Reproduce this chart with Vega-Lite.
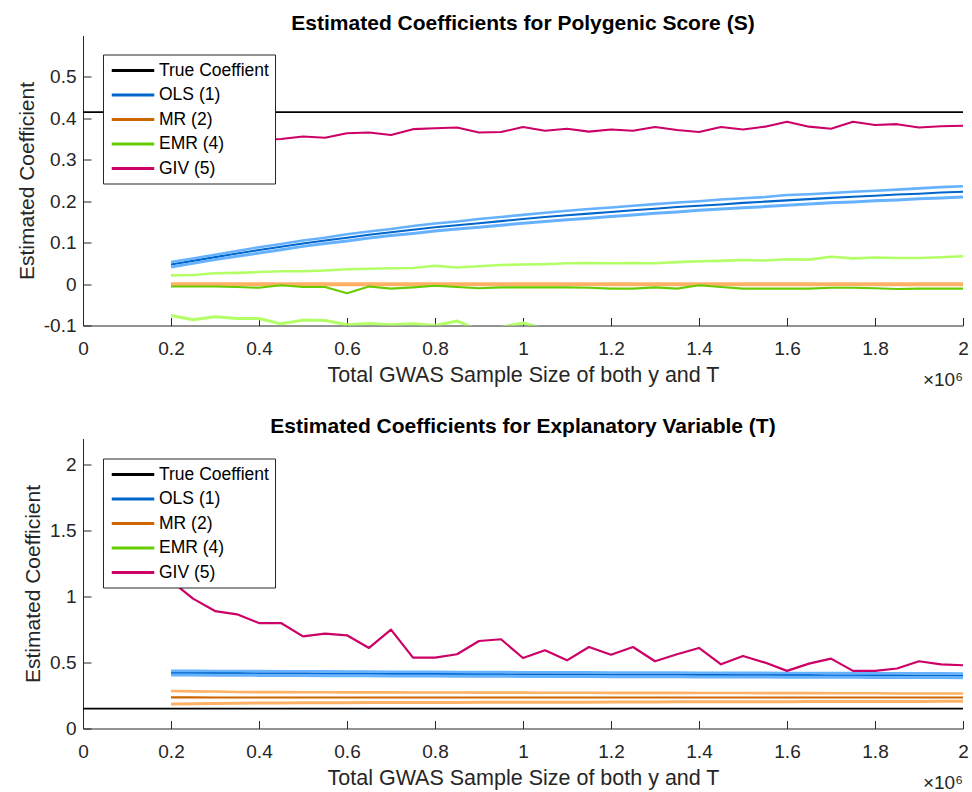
{
  "$schema": "https://vega.github.io/schema/vega-lite/v6.json",
  "autosize": {"type": "pad"},
  "padding": {"left": 16, "top": 12.5, "right": 0, "bottom": 0},
  "background": "white",
  "bounds": "flush",
  "spacing": 113,
  "config": {
    "font": "Liberation Sans",
    "view": {"stroke": null},
    "axis": {
      "domainColor": "#262626", "tickColor": "#262626", "labelColor": "#262626", "titleColor": "#262626",
      "labelFont": "Liberation Sans", "titleFont": "Liberation Sans", "labelFontSize": 19, "titleFontSize": 21,
      "titleFontWeight": "normal", "grid": false, "tickSize": -8, "labelPadding": 15, "domainWidth": 1, "tickWidth": 1,
      "labelFlush": false, "labelOverlap": false, "zindex": 1
    },
    "axisX": {"labelPadding": 22, "titleFontSize": 21.5},
    "title": {"font": "Liberation Sans", "fontSize": 21, "fontWeight": "bold", "color": "#000000", "anchor": "middle", "frame": "group", "offset": 2},
    "legend": {
      "strokeColor": "#262626", "fillColor": "white", "padding": 6, "symbolSize": 289, "symbolStrokeWidth": 3,
      "labelFont": "Liberation Sans", "labelFontSize": 17.5, "labelColor": "#000000", "rowPadding": 5.5,
      "labelOffset": 16, "symbolOffset": 14, "labelLimit": 300
    }
  },
  "datasets": {
    "S": [
      {"method":"True","stat":"true","n":0,"coef":0.415},{"method":"True","stat":"true","n":2,"coef":0.415},
      {"method":"OLS","stat":"est","n":0.2,"coef":0.047},{"method":"OLS","stat":"est","n":0.25,"coef":0.056},{"method":"OLS","stat":"est","n":0.3,"coef":0.065},{"method":"OLS","stat":"est","n":0.35,"coef":0.074},{"method":"OLS","stat":"est","n":0.4,"coef":0.082},{"method":"OLS","stat":"est","n":0.45,"coef":0.090},{"method":"OLS","stat":"est","n":0.5,"coef":0.098},{"method":"OLS","stat":"est","n":0.55,"coef":0.105},{"method":"OLS","stat":"est","n":0.6,"coef":0.112},{"method":"OLS","stat":"est","n":0.65,"coef":0.119},{"method":"OLS","stat":"est","n":0.7,"coef":0.125},{"method":"OLS","stat":"est","n":0.75,"coef":0.131},{"method":"OLS","stat":"est","n":0.8,"coef":0.137},{"method":"OLS","stat":"est","n":0.85,"coef":0.142},{"method":"OLS","stat":"est","n":0.9,"coef":0.147},{"method":"OLS","stat":"est","n":0.95,"coef":0.152},{"method":"OLS","stat":"est","n":1,"coef":0.157},{"method":"OLS","stat":"est","n":1.05,"coef":0.162},{"method":"OLS","stat":"est","n":1.1,"coef":0.166},{"method":"OLS","stat":"est","n":1.15,"coef":0.170},{"method":"OLS","stat":"est","n":1.2,"coef":0.174},{"method":"OLS","stat":"est","n":1.25,"coef":0.178},{"method":"OLS","stat":"est","n":1.3,"coef":0.182},{"method":"OLS","stat":"est","n":1.35,"coef":0.186},{"method":"OLS","stat":"est","n":1.4,"coef":0.189},{"method":"OLS","stat":"est","n":1.45,"coef":0.192},{"method":"OLS","stat":"est","n":1.5,"coef":0.196},{"method":"OLS","stat":"est","n":1.55,"coef":0.199},{"method":"OLS","stat":"est","n":1.6,"coef":0.202},{"method":"OLS","stat":"est","n":1.65,"coef":0.205},{"method":"OLS","stat":"est","n":1.7,"coef":0.208},{"method":"OLS","stat":"est","n":1.75,"coef":0.211},{"method":"OLS","stat":"est","n":1.8,"coef":0.213},{"method":"OLS","stat":"est","n":1.85,"coef":0.216},{"method":"OLS","stat":"est","n":1.9,"coef":0.218},{"method":"OLS","stat":"est","n":1.95,"coef":0.221},{"method":"OLS","stat":"est","n":2,"coef":0.223},
      {"method":"OLS","stat":"hi","n":0.2,"coef":0.053},{"method":"OLS","stat":"hi","n":0.25,"coef":0.062},{"method":"OLS","stat":"hi","n":0.3,"coef":0.071},{"method":"OLS","stat":"hi","n":0.35,"coef":0.080},{"method":"OLS","stat":"hi","n":0.4,"coef":0.089},{"method":"OLS","stat":"hi","n":0.45,"coef":0.097},{"method":"OLS","stat":"hi","n":0.5,"coef":0.105},{"method":"OLS","stat":"hi","n":0.55,"coef":0.112},{"method":"OLS","stat":"hi","n":0.6,"coef":0.120},{"method":"OLS","stat":"hi","n":0.65,"coef":0.127},{"method":"OLS","stat":"hi","n":0.7,"coef":0.133},{"method":"OLS","stat":"hi","n":0.75,"coef":0.140},{"method":"OLS","stat":"hi","n":0.8,"coef":0.146},{"method":"OLS","stat":"hi","n":0.85,"coef":0.151},{"method":"OLS","stat":"hi","n":0.9,"coef":0.157},{"method":"OLS","stat":"hi","n":0.95,"coef":0.162},{"method":"OLS","stat":"hi","n":1,"coef":0.167},{"method":"OLS","stat":"hi","n":1.05,"coef":0.172},{"method":"OLS","stat":"hi","n":1.1,"coef":0.177},{"method":"OLS","stat":"hi","n":1.15,"coef":0.181},{"method":"OLS","stat":"hi","n":1.2,"coef":0.185},{"method":"OLS","stat":"hi","n":1.25,"coef":0.189},{"method":"OLS","stat":"hi","n":1.3,"coef":0.193},{"method":"OLS","stat":"hi","n":1.35,"coef":0.197},{"method":"OLS","stat":"hi","n":1.4,"coef":0.200},{"method":"OLS","stat":"hi","n":1.45,"coef":0.204},{"method":"OLS","stat":"hi","n":1.5,"coef":0.207},{"method":"OLS","stat":"hi","n":1.55,"coef":0.210},{"method":"OLS","stat":"hi","n":1.6,"coef":0.215},{"method":"OLS","stat":"hi","n":1.65,"coef":0.217},{"method":"OLS","stat":"hi","n":1.7,"coef":0.220},{"method":"OLS","stat":"hi","n":1.75,"coef":0.223},{"method":"OLS","stat":"hi","n":1.8,"coef":0.225},{"method":"OLS","stat":"hi","n":1.85,"coef":0.228},{"method":"OLS","stat":"hi","n":1.9,"coef":0.231},{"method":"OLS","stat":"hi","n":1.95,"coef":0.234},{"method":"OLS","stat":"hi","n":2,"coef":0.236},
      {"method":"OLS","stat":"lo","n":0.2,"coef":0.041},{"method":"OLS","stat":"lo","n":0.25,"coef":0.050},{"method":"OLS","stat":"lo","n":0.3,"coef":0.059},{"method":"OLS","stat":"lo","n":0.35,"coef":0.067},{"method":"OLS","stat":"lo","n":0.4,"coef":0.075},{"method":"OLS","stat":"lo","n":0.45,"coef":0.083},{"method":"OLS","stat":"lo","n":0.5,"coef":0.091},{"method":"OLS","stat":"lo","n":0.55,"coef":0.098},{"method":"OLS","stat":"lo","n":0.6,"coef":0.104},{"method":"OLS","stat":"lo","n":0.65,"coef":0.111},{"method":"OLS","stat":"lo","n":0.7,"coef":0.117},{"method":"OLS","stat":"lo","n":0.75,"coef":0.122},{"method":"OLS","stat":"lo","n":0.8,"coef":0.128},{"method":"OLS","stat":"lo","n":0.85,"coef":0.133},{"method":"OLS","stat":"lo","n":0.9,"coef":0.137},{"method":"OLS","stat":"lo","n":0.95,"coef":0.142},{"method":"OLS","stat":"lo","n":1,"coef":0.147},{"method":"OLS","stat":"lo","n":1.05,"coef":0.151},{"method":"OLS","stat":"lo","n":1.1,"coef":0.155},{"method":"OLS","stat":"lo","n":1.15,"coef":0.159},{"method":"OLS","stat":"lo","n":1.2,"coef":0.163},{"method":"OLS","stat":"lo","n":1.25,"coef":0.167},{"method":"OLS","stat":"lo","n":1.3,"coef":0.171},{"method":"OLS","stat":"lo","n":1.35,"coef":0.174},{"method":"OLS","stat":"lo","n":1.4,"coef":0.178},{"method":"OLS","stat":"lo","n":1.45,"coef":0.181},{"method":"OLS","stat":"lo","n":1.5,"coef":0.184},{"method":"OLS","stat":"lo","n":1.55,"coef":0.187},{"method":"OLS","stat":"lo","n":1.6,"coef":0.190},{"method":"OLS","stat":"lo","n":1.65,"coef":0.193},{"method":"OLS","stat":"lo","n":1.7,"coef":0.196},{"method":"OLS","stat":"lo","n":1.75,"coef":0.198},{"method":"OLS","stat":"lo","n":1.8,"coef":0.201},{"method":"OLS","stat":"lo","n":1.85,"coef":0.203},{"method":"OLS","stat":"lo","n":1.9,"coef":0.206},{"method":"OLS","stat":"lo","n":1.95,"coef":0.208},{"method":"OLS","stat":"lo","n":2,"coef":0.210},
      {"method":"MR","stat":"est","n":0.2,"coef":0},{"method":"MR","stat":"est","n":0.25,"coef":0},{"method":"MR","stat":"est","n":0.3,"coef":0},{"method":"MR","stat":"est","n":0.35,"coef":0},{"method":"MR","stat":"est","n":0.4,"coef":0},{"method":"MR","stat":"est","n":0.45,"coef":0},{"method":"MR","stat":"est","n":0.5,"coef":0},{"method":"MR","stat":"est","n":0.55,"coef":0},{"method":"MR","stat":"est","n":0.6,"coef":0},{"method":"MR","stat":"est","n":0.65,"coef":0},{"method":"MR","stat":"est","n":0.7,"coef":0},{"method":"MR","stat":"est","n":0.75,"coef":0},{"method":"MR","stat":"est","n":0.8,"coef":0},{"method":"MR","stat":"est","n":0.85,"coef":0},{"method":"MR","stat":"est","n":0.9,"coef":0},{"method":"MR","stat":"est","n":0.95,"coef":0},{"method":"MR","stat":"est","n":1,"coef":0},{"method":"MR","stat":"est","n":1.05,"coef":0},{"method":"MR","stat":"est","n":1.1,"coef":0},{"method":"MR","stat":"est","n":1.15,"coef":0},{"method":"MR","stat":"est","n":1.2,"coef":0},{"method":"MR","stat":"est","n":1.25,"coef":0},{"method":"MR","stat":"est","n":1.3,"coef":0},{"method":"MR","stat":"est","n":1.35,"coef":0},{"method":"MR","stat":"est","n":1.4,"coef":0},{"method":"MR","stat":"est","n":1.45,"coef":0},{"method":"MR","stat":"est","n":1.5,"coef":0},{"method":"MR","stat":"est","n":1.55,"coef":0},{"method":"MR","stat":"est","n":1.6,"coef":0},{"method":"MR","stat":"est","n":1.65,"coef":0},{"method":"MR","stat":"est","n":1.7,"coef":0},{"method":"MR","stat":"est","n":1.75,"coef":0},{"method":"MR","stat":"est","n":1.8,"coef":0},{"method":"MR","stat":"est","n":1.85,"coef":0},{"method":"MR","stat":"est","n":1.9,"coef":0},{"method":"MR","stat":"est","n":1.95,"coef":0},{"method":"MR","stat":"est","n":2,"coef":0},
      {"method":"MR","stat":"hi","n":0.2,"coef":0.0015},{"method":"MR","stat":"hi","n":0.25,"coef":0.0015},{"method":"MR","stat":"hi","n":0.3,"coef":0.0015},{"method":"MR","stat":"hi","n":0.35,"coef":0.0015},{"method":"MR","stat":"hi","n":0.4,"coef":0.0015},{"method":"MR","stat":"hi","n":0.45,"coef":0.0015},{"method":"MR","stat":"hi","n":0.5,"coef":0.0015},{"method":"MR","stat":"hi","n":0.55,"coef":0.0015},{"method":"MR","stat":"hi","n":0.6,"coef":0.0015},{"method":"MR","stat":"hi","n":0.65,"coef":0.0015},{"method":"MR","stat":"hi","n":0.7,"coef":0.0015},{"method":"MR","stat":"hi","n":0.75,"coef":0.0015},{"method":"MR","stat":"hi","n":0.8,"coef":0.0015},{"method":"MR","stat":"hi","n":0.85,"coef":0.0015},{"method":"MR","stat":"hi","n":0.9,"coef":0.0015},{"method":"MR","stat":"hi","n":0.95,"coef":0.0015},{"method":"MR","stat":"hi","n":1,"coef":0.0015},{"method":"MR","stat":"hi","n":1.05,"coef":0.0015},{"method":"MR","stat":"hi","n":1.1,"coef":0.0015},{"method":"MR","stat":"hi","n":1.15,"coef":0.0015},{"method":"MR","stat":"hi","n":1.2,"coef":0.0015},{"method":"MR","stat":"hi","n":1.25,"coef":0.0015},{"method":"MR","stat":"hi","n":1.3,"coef":0.0015},{"method":"MR","stat":"hi","n":1.35,"coef":0.0015},{"method":"MR","stat":"hi","n":1.4,"coef":0.0015},{"method":"MR","stat":"hi","n":1.45,"coef":0.0015},{"method":"MR","stat":"hi","n":1.5,"coef":0.0015},{"method":"MR","stat":"hi","n":1.55,"coef":0.0015},{"method":"MR","stat":"hi","n":1.6,"coef":0.0015},{"method":"MR","stat":"hi","n":1.65,"coef":0.0015},{"method":"MR","stat":"hi","n":1.7,"coef":0.0015},{"method":"MR","stat":"hi","n":1.75,"coef":0.0015},{"method":"MR","stat":"hi","n":1.8,"coef":0.0015},{"method":"MR","stat":"hi","n":1.85,"coef":0.0015},{"method":"MR","stat":"hi","n":1.9,"coef":0.0015},{"method":"MR","stat":"hi","n":1.95,"coef":0.0015},{"method":"MR","stat":"hi","n":2,"coef":0.0015},
      {"method":"MR","stat":"lo","n":0.2,"coef":-0.0015},{"method":"MR","stat":"lo","n":0.25,"coef":-0.0015},{"method":"MR","stat":"lo","n":0.3,"coef":-0.0015},{"method":"MR","stat":"lo","n":0.35,"coef":-0.0015},{"method":"MR","stat":"lo","n":0.4,"coef":-0.0015},{"method":"MR","stat":"lo","n":0.45,"coef":-0.0015},{"method":"MR","stat":"lo","n":0.5,"coef":-0.0015},{"method":"MR","stat":"lo","n":0.55,"coef":-0.0015},{"method":"MR","stat":"lo","n":0.6,"coef":-0.0015},{"method":"MR","stat":"lo","n":0.65,"coef":-0.0015},{"method":"MR","stat":"lo","n":0.7,"coef":-0.0015},{"method":"MR","stat":"lo","n":0.75,"coef":-0.0015},{"method":"MR","stat":"lo","n":0.8,"coef":-0.0015},{"method":"MR","stat":"lo","n":0.85,"coef":-0.0015},{"method":"MR","stat":"lo","n":0.9,"coef":-0.0015},{"method":"MR","stat":"lo","n":0.95,"coef":-0.0015},{"method":"MR","stat":"lo","n":1,"coef":-0.0015},{"method":"MR","stat":"lo","n":1.05,"coef":-0.0015},{"method":"MR","stat":"lo","n":1.1,"coef":-0.0015},{"method":"MR","stat":"lo","n":1.15,"coef":-0.0015},{"method":"MR","stat":"lo","n":1.2,"coef":-0.0015},{"method":"MR","stat":"lo","n":1.25,"coef":-0.0015},{"method":"MR","stat":"lo","n":1.3,"coef":-0.0015},{"method":"MR","stat":"lo","n":1.35,"coef":-0.0015},{"method":"MR","stat":"lo","n":1.4,"coef":-0.0015},{"method":"MR","stat":"lo","n":1.45,"coef":-0.0015},{"method":"MR","stat":"lo","n":1.5,"coef":-0.0015},{"method":"MR","stat":"lo","n":1.55,"coef":-0.0015},{"method":"MR","stat":"lo","n":1.6,"coef":-0.0015},{"method":"MR","stat":"lo","n":1.65,"coef":-0.0015},{"method":"MR","stat":"lo","n":1.7,"coef":-0.0015},{"method":"MR","stat":"lo","n":1.75,"coef":-0.0015},{"method":"MR","stat":"lo","n":1.8,"coef":-0.0015},{"method":"MR","stat":"lo","n":1.85,"coef":-0.0015},{"method":"MR","stat":"lo","n":1.9,"coef":-0.0015},{"method":"MR","stat":"lo","n":1.95,"coef":-0.0015},{"method":"MR","stat":"lo","n":2,"coef":-0.0015},
      {"method":"EMR","stat":"est","n":0.2,"coef":-0.006},{"method":"EMR","stat":"est","n":0.25,"coef":-0.006},{"method":"EMR","stat":"est","n":0.3,"coef":-0.006},{"method":"EMR","stat":"est","n":0.35,"coef":-0.007},{"method":"EMR","stat":"est","n":0.4,"coef":-0.009},{"method":"EMR","stat":"est","n":0.45,"coef":-0.003},{"method":"EMR","stat":"est","n":0.5,"coef":-0.007},{"method":"EMR","stat":"est","n":0.55,"coef":-0.007},{"method":"EMR","stat":"est","n":0.6,"coef":-0.022},{"method":"EMR","stat":"est","n":0.65,"coef":-0.006},{"method":"EMR","stat":"est","n":0.7,"coef":-0.011},{"method":"EMR","stat":"est","n":0.75,"coef":-0.008},{"method":"EMR","stat":"est","n":0.8,"coef":-0.004},{"method":"EMR","stat":"est","n":0.85,"coef":-0.007},{"method":"EMR","stat":"est","n":0.9,"coef":-0.010},{"method":"EMR","stat":"est","n":0.95,"coef":-0.008},{"method":"EMR","stat":"est","n":1,"coef":-0.008},{"method":"EMR","stat":"est","n":1.05,"coef":-0.008},{"method":"EMR","stat":"est","n":1.1,"coef":-0.008},{"method":"EMR","stat":"est","n":1.15,"coef":-0.009},{"method":"EMR","stat":"est","n":1.2,"coef":-0.011},{"method":"EMR","stat":"est","n":1.25,"coef":-0.011},{"method":"EMR","stat":"est","n":1.3,"coef":-0.008},{"method":"EMR","stat":"est","n":1.35,"coef":-0.011},{"method":"EMR","stat":"est","n":1.4,"coef":-0.003},{"method":"EMR","stat":"est","n":1.45,"coef":-0.007},{"method":"EMR","stat":"est","n":1.5,"coef":-0.011},{"method":"EMR","stat":"est","n":1.55,"coef":-0.011},{"method":"EMR","stat":"est","n":1.6,"coef":-0.011},{"method":"EMR","stat":"est","n":1.65,"coef":-0.011},{"method":"EMR","stat":"est","n":1.7,"coef":-0.009},{"method":"EMR","stat":"est","n":1.75,"coef":-0.009},{"method":"EMR","stat":"est","n":1.8,"coef":-0.010},{"method":"EMR","stat":"est","n":1.85,"coef":-0.012},{"method":"EMR","stat":"est","n":1.9,"coef":-0.011},{"method":"EMR","stat":"est","n":1.95,"coef":-0.011},{"method":"EMR","stat":"est","n":2,"coef":-0.011},
      {"method":"EMR","stat":"hi","n":0.2,"coef":0.021},{"method":"EMR","stat":"hi","n":0.25,"coef":0.022},{"method":"EMR","stat":"hi","n":0.3,"coef":0.026},{"method":"EMR","stat":"hi","n":0.35,"coef":0.027},{"method":"EMR","stat":"hi","n":0.4,"coef":0.029},{"method":"EMR","stat":"hi","n":0.45,"coef":0.031},{"method":"EMR","stat":"hi","n":0.5,"coef":0.031},{"method":"EMR","stat":"hi","n":0.55,"coef":0.033},{"method":"EMR","stat":"hi","n":0.6,"coef":0.036},{"method":"EMR","stat":"hi","n":0.65,"coef":0.037},{"method":"EMR","stat":"hi","n":0.7,"coef":0.038},{"method":"EMR","stat":"hi","n":0.75,"coef":0.039},{"method":"EMR","stat":"hi","n":0.8,"coef":0.044},{"method":"EMR","stat":"hi","n":0.85,"coef":0.040},{"method":"EMR","stat":"hi","n":0.9,"coef":0.043},{"method":"EMR","stat":"hi","n":0.95,"coef":0.046},{"method":"EMR","stat":"hi","n":1,"coef":0.047},{"method":"EMR","stat":"hi","n":1.05,"coef":0.048},{"method":"EMR","stat":"hi","n":1.1,"coef":0.050},{"method":"EMR","stat":"hi","n":1.15,"coef":0.051},{"method":"EMR","stat":"hi","n":1.2,"coef":0.050},{"method":"EMR","stat":"hi","n":1.25,"coef":0.051},{"method":"EMR","stat":"hi","n":1.3,"coef":0.050},{"method":"EMR","stat":"hi","n":1.35,"coef":0.053},{"method":"EMR","stat":"hi","n":1.4,"coef":0.055},{"method":"EMR","stat":"hi","n":1.45,"coef":0.056},{"method":"EMR","stat":"hi","n":1.5,"coef":0.058},{"method":"EMR","stat":"hi","n":1.55,"coef":0.057},{"method":"EMR","stat":"hi","n":1.6,"coef":0.060},{"method":"EMR","stat":"hi","n":1.65,"coef":0.059},{"method":"EMR","stat":"hi","n":1.7,"coef":0.066},{"method":"EMR","stat":"hi","n":1.75,"coef":0.062},{"method":"EMR","stat":"hi","n":1.8,"coef":0.064},{"method":"EMR","stat":"hi","n":1.85,"coef":0.063},{"method":"EMR","stat":"hi","n":1.9,"coef":0.063},{"method":"EMR","stat":"hi","n":1.95,"coef":0.065},{"method":"EMR","stat":"hi","n":2,"coef":0.067},
      {"method":"EMR","stat":"lo","n":0.2,"coef":-0.076},{"method":"EMR","stat":"lo","n":0.25,"coef":-0.086},{"method":"EMR","stat":"lo","n":0.3,"coef":-0.079},{"method":"EMR","stat":"lo","n":0.35,"coef":-0.083},{"method":"EMR","stat":"lo","n":0.4,"coef":-0.083},{"method":"EMR","stat":"lo","n":0.45,"coef":-0.096},{"method":"EMR","stat":"lo","n":0.5,"coef":-0.087},{"method":"EMR","stat":"lo","n":0.55,"coef":-0.088},{"method":"EMR","stat":"lo","n":0.6,"coef":-0.098},{"method":"EMR","stat":"lo","n":0.65,"coef":-0.095},{"method":"EMR","stat":"lo","n":0.7,"coef":-0.098},{"method":"EMR","stat":"lo","n":0.75,"coef":-0.096},{"method":"EMR","stat":"lo","n":0.8,"coef":-0.100},{"method":"EMR","stat":"lo","n":0.85,"coef":-0.089},{"method":"EMR","stat":"lo","n":0.9,"coef":-0.112},{"method":"EMR","stat":"lo","n":0.95,"coef":-0.104},{"method":"EMR","stat":"lo","n":1,"coef":-0.094},{"method":"EMR","stat":"lo","n":1.05,"coef":-0.108},{"method":"EMR","stat":"lo","n":1.1,"coef":-0.112},{"method":"EMR","stat":"lo","n":1.15,"coef":-0.115},{"method":"EMR","stat":"lo","n":1.2,"coef":-0.113},{"method":"EMR","stat":"lo","n":1.25,"coef":-0.117},{"method":"EMR","stat":"lo","n":1.3,"coef":-0.114},{"method":"EMR","stat":"lo","n":1.35,"coef":-0.118},{"method":"EMR","stat":"lo","n":1.4,"coef":-0.112},{"method":"EMR","stat":"lo","n":1.45,"coef":-0.120},{"method":"EMR","stat":"lo","n":1.5,"coef":-0.122},{"method":"EMR","stat":"lo","n":1.55,"coef":-0.119},{"method":"EMR","stat":"lo","n":1.6,"coef":-0.123},{"method":"EMR","stat":"lo","n":1.65,"coef":-0.121},{"method":"EMR","stat":"lo","n":1.7,"coef":-0.125},{"method":"EMR","stat":"lo","n":1.75,"coef":-0.122},{"method":"EMR","stat":"lo","n":1.8,"coef":-0.126},{"method":"EMR","stat":"lo","n":1.85,"coef":-0.124},{"method":"EMR","stat":"lo","n":1.9,"coef":-0.127},{"method":"EMR","stat":"lo","n":1.95,"coef":-0.125},{"method":"EMR","stat":"lo","n":2,"coef":-0.128},
      {"method":"GIV","stat":"est","n":0.2,"coef":0.330},{"method":"GIV","stat":"est","n":0.25,"coef":0.335},{"method":"GIV","stat":"est","n":0.3,"coef":0.340},{"method":"GIV","stat":"est","n":0.35,"coef":0.345},{"method":"GIV","stat":"est","n":0.4,"coef":0.348},{"method":"GIV","stat":"est","n":0.45,"coef":0.350},{"method":"GIV","stat":"est","n":0.5,"coef":0.356},{"method":"GIV","stat":"est","n":0.55,"coef":0.353},{"method":"GIV","stat":"est","n":0.6,"coef":0.364},{"method":"GIV","stat":"est","n":0.65,"coef":0.366},{"method":"GIV","stat":"est","n":0.7,"coef":0.360},{"method":"GIV","stat":"est","n":0.75,"coef":0.374},{"method":"GIV","stat":"est","n":0.8,"coef":0.376},{"method":"GIV","stat":"est","n":0.85,"coef":0.378},{"method":"GIV","stat":"est","n":0.9,"coef":0.366},{"method":"GIV","stat":"est","n":0.95,"coef":0.367},{"method":"GIV","stat":"est","n":1,"coef":0.379},{"method":"GIV","stat":"est","n":1.05,"coef":0.370},{"method":"GIV","stat":"est","n":1.1,"coef":0.375},{"method":"GIV","stat":"est","n":1.15,"coef":0.368},{"method":"GIV","stat":"est","n":1.2,"coef":0.373},{"method":"GIV","stat":"est","n":1.25,"coef":0.370},{"method":"GIV","stat":"est","n":1.3,"coef":0.379},{"method":"GIV","stat":"est","n":1.35,"coef":0.372},{"method":"GIV","stat":"est","n":1.4,"coef":0.367},{"method":"GIV","stat":"est","n":1.45,"coef":0.379},{"method":"GIV","stat":"est","n":1.5,"coef":0.373},{"method":"GIV","stat":"est","n":1.55,"coef":0.380},{"method":"GIV","stat":"est","n":1.6,"coef":0.392},{"method":"GIV","stat":"est","n":1.65,"coef":0.380},{"method":"GIV","stat":"est","n":1.7,"coef":0.375},{"method":"GIV","stat":"est","n":1.75,"coef":0.392},{"method":"GIV","stat":"est","n":1.8,"coef":0.384},{"method":"GIV","stat":"est","n":1.85,"coef":0.386},{"method":"GIV","stat":"est","n":1.9,"coef":0.378},{"method":"GIV","stat":"est","n":1.95,"coef":0.381},{"method":"GIV","stat":"est","n":2,"coef":0.382}
    ],
    "T": [
      {"method":"True","stat":"true","n":0,"coef":0.151},{"method":"True","stat":"true","n":2,"coef":0.151},
      {"method":"OLS","stat":"est","n":0.2,"coef":0.421},{"method":"OLS","stat":"est","n":0.25,"coef":0.421},{"method":"OLS","stat":"est","n":0.3,"coef":0.420},{"method":"OLS","stat":"est","n":0.35,"coef":0.420},{"method":"OLS","stat":"est","n":0.4,"coef":0.419},{"method":"OLS","stat":"est","n":0.45,"coef":0.418},{"method":"OLS","stat":"est","n":0.5,"coef":0.418},{"method":"OLS","stat":"est","n":0.55,"coef":0.417},{"method":"OLS","stat":"est","n":0.6,"coef":0.416},{"method":"OLS","stat":"est","n":0.65,"coef":0.416},{"method":"OLS","stat":"est","n":0.7,"coef":0.415},{"method":"OLS","stat":"est","n":0.75,"coef":0.414},{"method":"OLS","stat":"est","n":0.8,"coef":0.414},{"method":"OLS","stat":"est","n":0.85,"coef":0.413},{"method":"OLS","stat":"est","n":0.9,"coef":0.412},{"method":"OLS","stat":"est","n":0.95,"coef":0.412},{"method":"OLS","stat":"est","n":1,"coef":0.411},{"method":"OLS","stat":"est","n":1.05,"coef":0.411},{"method":"OLS","stat":"est","n":1.1,"coef":0.410},{"method":"OLS","stat":"est","n":1.15,"coef":0.410},{"method":"OLS","stat":"est","n":1.2,"coef":0.409},{"method":"OLS","stat":"est","n":1.25,"coef":0.409},{"method":"OLS","stat":"est","n":1.3,"coef":0.408},{"method":"OLS","stat":"est","n":1.35,"coef":0.408},{"method":"OLS","stat":"est","n":1.4,"coef":0.407},{"method":"OLS","stat":"est","n":1.45,"coef":0.407},{"method":"OLS","stat":"est","n":1.5,"coef":0.406},{"method":"OLS","stat":"est","n":1.55,"coef":0.406},{"method":"OLS","stat":"est","n":1.6,"coef":0.405},{"method":"OLS","stat":"est","n":1.65,"coef":0.405},{"method":"OLS","stat":"est","n":1.7,"coef":0.404},{"method":"OLS","stat":"est","n":1.75,"coef":0.404},{"method":"OLS","stat":"est","n":1.8,"coef":0.403},{"method":"OLS","stat":"est","n":1.85,"coef":0.403},{"method":"OLS","stat":"est","n":1.9,"coef":0.402},{"method":"OLS","stat":"est","n":1.95,"coef":0.402},{"method":"OLS","stat":"est","n":2,"coef":0.401},
      {"method":"OLS","stat":"hi","n":0.2,"coef":0.437},{"method":"OLS","stat":"hi","n":0.25,"coef":0.437},{"method":"OLS","stat":"hi","n":0.3,"coef":0.436},{"method":"OLS","stat":"hi","n":0.35,"coef":0.436},{"method":"OLS","stat":"hi","n":0.4,"coef":0.435},{"method":"OLS","stat":"hi","n":0.45,"coef":0.434},{"method":"OLS","stat":"hi","n":0.5,"coef":0.434},{"method":"OLS","stat":"hi","n":0.55,"coef":0.433},{"method":"OLS","stat":"hi","n":0.6,"coef":0.432},{"method":"OLS","stat":"hi","n":0.65,"coef":0.432},{"method":"OLS","stat":"hi","n":0.7,"coef":0.431},{"method":"OLS","stat":"hi","n":0.75,"coef":0.430},{"method":"OLS","stat":"hi","n":0.8,"coef":0.430},{"method":"OLS","stat":"hi","n":0.85,"coef":0.429},{"method":"OLS","stat":"hi","n":0.9,"coef":0.428},{"method":"OLS","stat":"hi","n":0.95,"coef":0.428},{"method":"OLS","stat":"hi","n":1,"coef":0.427},{"method":"OLS","stat":"hi","n":1.05,"coef":0.427},{"method":"OLS","stat":"hi","n":1.1,"coef":0.426},{"method":"OLS","stat":"hi","n":1.15,"coef":0.426},{"method":"OLS","stat":"hi","n":1.2,"coef":0.425},{"method":"OLS","stat":"hi","n":1.25,"coef":0.425},{"method":"OLS","stat":"hi","n":1.3,"coef":0.424},{"method":"OLS","stat":"hi","n":1.35,"coef":0.424},{"method":"OLS","stat":"hi","n":1.4,"coef":0.423},{"method":"OLS","stat":"hi","n":1.45,"coef":0.423},{"method":"OLS","stat":"hi","n":1.5,"coef":0.422},{"method":"OLS","stat":"hi","n":1.55,"coef":0.422},{"method":"OLS","stat":"hi","n":1.6,"coef":0.421},{"method":"OLS","stat":"hi","n":1.65,"coef":0.421},{"method":"OLS","stat":"hi","n":1.7,"coef":0.420},{"method":"OLS","stat":"hi","n":1.75,"coef":0.420},{"method":"OLS","stat":"hi","n":1.8,"coef":0.419},{"method":"OLS","stat":"hi","n":1.85,"coef":0.419},{"method":"OLS","stat":"hi","n":1.9,"coef":0.418},{"method":"OLS","stat":"hi","n":1.95,"coef":0.418},{"method":"OLS","stat":"hi","n":2,"coef":0.417},
      {"method":"OLS","stat":"lo","n":0.2,"coef":0.405},{"method":"OLS","stat":"lo","n":0.25,"coef":0.405},{"method":"OLS","stat":"lo","n":0.3,"coef":0.404},{"method":"OLS","stat":"lo","n":0.35,"coef":0.404},{"method":"OLS","stat":"lo","n":0.4,"coef":0.403},{"method":"OLS","stat":"lo","n":0.45,"coef":0.402},{"method":"OLS","stat":"lo","n":0.5,"coef":0.402},{"method":"OLS","stat":"lo","n":0.55,"coef":0.401},{"method":"OLS","stat":"lo","n":0.6,"coef":0.400},{"method":"OLS","stat":"lo","n":0.65,"coef":0.400},{"method":"OLS","stat":"lo","n":0.7,"coef":0.399},{"method":"OLS","stat":"lo","n":0.75,"coef":0.398},{"method":"OLS","stat":"lo","n":0.8,"coef":0.398},{"method":"OLS","stat":"lo","n":0.85,"coef":0.397},{"method":"OLS","stat":"lo","n":0.9,"coef":0.396},{"method":"OLS","stat":"lo","n":0.95,"coef":0.396},{"method":"OLS","stat":"lo","n":1,"coef":0.395},{"method":"OLS","stat":"lo","n":1.05,"coef":0.395},{"method":"OLS","stat":"lo","n":1.1,"coef":0.394},{"method":"OLS","stat":"lo","n":1.15,"coef":0.394},{"method":"OLS","stat":"lo","n":1.2,"coef":0.393},{"method":"OLS","stat":"lo","n":1.25,"coef":0.393},{"method":"OLS","stat":"lo","n":1.3,"coef":0.392},{"method":"OLS","stat":"lo","n":1.35,"coef":0.392},{"method":"OLS","stat":"lo","n":1.4,"coef":0.391},{"method":"OLS","stat":"lo","n":1.45,"coef":0.391},{"method":"OLS","stat":"lo","n":1.5,"coef":0.390},{"method":"OLS","stat":"lo","n":1.55,"coef":0.390},{"method":"OLS","stat":"lo","n":1.6,"coef":0.389},{"method":"OLS","stat":"lo","n":1.65,"coef":0.389},{"method":"OLS","stat":"lo","n":1.7,"coef":0.388},{"method":"OLS","stat":"lo","n":1.75,"coef":0.388},{"method":"OLS","stat":"lo","n":1.8,"coef":0.387},{"method":"OLS","stat":"lo","n":1.85,"coef":0.387},{"method":"OLS","stat":"lo","n":1.9,"coef":0.386},{"method":"OLS","stat":"lo","n":1.95,"coef":0.386},{"method":"OLS","stat":"lo","n":2,"coef":0.385},
      {"method":"MR","stat":"est","n":0.2,"coef":0.236},{"method":"MR","stat":"est","n":0.25,"coef":0.236},{"method":"MR","stat":"est","n":0.3,"coef":0.235},{"method":"MR","stat":"est","n":0.35,"coef":0.235},{"method":"MR","stat":"est","n":0.4,"coef":0.235},{"method":"MR","stat":"est","n":0.45,"coef":0.235},{"method":"MR","stat":"est","n":0.5,"coef":0.235},{"method":"MR","stat":"est","n":0.55,"coef":0.235},{"method":"MR","stat":"est","n":0.6,"coef":0.235},{"method":"MR","stat":"est","n":0.65,"coef":0.235},{"method":"MR","stat":"est","n":0.7,"coef":0.235},{"method":"MR","stat":"est","n":0.75,"coef":0.235},{"method":"MR","stat":"est","n":0.8,"coef":0.235},{"method":"MR","stat":"est","n":0.85,"coef":0.235},{"method":"MR","stat":"est","n":0.9,"coef":0.235},{"method":"MR","stat":"est","n":0.95,"coef":0.235},{"method":"MR","stat":"est","n":1,"coef":0.235},{"method":"MR","stat":"est","n":1.05,"coef":0.235},{"method":"MR","stat":"est","n":1.1,"coef":0.235},{"method":"MR","stat":"est","n":1.15,"coef":0.235},{"method":"MR","stat":"est","n":1.2,"coef":0.235},{"method":"MR","stat":"est","n":1.25,"coef":0.235},{"method":"MR","stat":"est","n":1.3,"coef":0.235},{"method":"MR","stat":"est","n":1.35,"coef":0.235},{"method":"MR","stat":"est","n":1.4,"coef":0.235},{"method":"MR","stat":"est","n":1.45,"coef":0.235},{"method":"MR","stat":"est","n":1.5,"coef":0.235},{"method":"MR","stat":"est","n":1.55,"coef":0.235},{"method":"MR","stat":"est","n":1.6,"coef":0.235},{"method":"MR","stat":"est","n":1.65,"coef":0.235},{"method":"MR","stat":"est","n":1.7,"coef":0.235},{"method":"MR","stat":"est","n":1.75,"coef":0.235},{"method":"MR","stat":"est","n":1.8,"coef":0.235},{"method":"MR","stat":"est","n":1.85,"coef":0.235},{"method":"MR","stat":"est","n":1.9,"coef":0.235},{"method":"MR","stat":"est","n":1.95,"coef":0.235},{"method":"MR","stat":"est","n":2,"coef":0.235},
      {"method":"MR","stat":"hi","n":0.2,"coef":0.285},{"method":"MR","stat":"hi","n":0.25,"coef":0.282},{"method":"MR","stat":"hi","n":0.3,"coef":0.281},{"method":"MR","stat":"hi","n":0.35,"coef":0.277},{"method":"MR","stat":"hi","n":0.4,"coef":0.276},{"method":"MR","stat":"hi","n":0.45,"coef":0.276},{"method":"MR","stat":"hi","n":0.5,"coef":0.275},{"method":"MR","stat":"hi","n":0.55,"coef":0.275},{"method":"MR","stat":"hi","n":0.6,"coef":0.274},{"method":"MR","stat":"hi","n":0.65,"coef":0.274},{"method":"MR","stat":"hi","n":0.7,"coef":0.274},{"method":"MR","stat":"hi","n":0.75,"coef":0.273},{"method":"MR","stat":"hi","n":0.8,"coef":0.273},{"method":"MR","stat":"hi","n":0.85,"coef":0.273},{"method":"MR","stat":"hi","n":0.9,"coef":0.272},{"method":"MR","stat":"hi","n":0.95,"coef":0.272},{"method":"MR","stat":"hi","n":1,"coef":0.272},{"method":"MR","stat":"hi","n":1.05,"coef":0.271},{"method":"MR","stat":"hi","n":1.1,"coef":0.271},{"method":"MR","stat":"hi","n":1.15,"coef":0.271},{"method":"MR","stat":"hi","n":1.2,"coef":0.270},{"method":"MR","stat":"hi","n":1.25,"coef":0.270},{"method":"MR","stat":"hi","n":1.3,"coef":0.270},{"method":"MR","stat":"hi","n":1.35,"coef":0.270},{"method":"MR","stat":"hi","n":1.4,"coef":0.269},{"method":"MR","stat":"hi","n":1.45,"coef":0.269},{"method":"MR","stat":"hi","n":1.5,"coef":0.269},{"method":"MR","stat":"hi","n":1.55,"coef":0.268},{"method":"MR","stat":"hi","n":1.6,"coef":0.268},{"method":"MR","stat":"hi","n":1.65,"coef":0.268},{"method":"MR","stat":"hi","n":1.7,"coef":0.267},{"method":"MR","stat":"hi","n":1.75,"coef":0.267},{"method":"MR","stat":"hi","n":1.8,"coef":0.267},{"method":"MR","stat":"hi","n":1.85,"coef":0.266},{"method":"MR","stat":"hi","n":1.9,"coef":0.266},{"method":"MR","stat":"hi","n":1.95,"coef":0.266},{"method":"MR","stat":"hi","n":2,"coef":0.266},
      {"method":"MR","stat":"lo","n":0.2,"coef":0.185},{"method":"MR","stat":"lo","n":0.25,"coef":0.188},{"method":"MR","stat":"lo","n":0.3,"coef":0.189},{"method":"MR","stat":"lo","n":0.35,"coef":0.192},{"method":"MR","stat":"lo","n":0.4,"coef":0.193},{"method":"MR","stat":"lo","n":0.45,"coef":0.194},{"method":"MR","stat":"lo","n":0.5,"coef":0.195},{"method":"MR","stat":"lo","n":0.55,"coef":0.196},{"method":"MR","stat":"lo","n":0.6,"coef":0.196},{"method":"MR","stat":"lo","n":0.65,"coef":0.197},{"method":"MR","stat":"lo","n":0.7,"coef":0.197},{"method":"MR","stat":"lo","n":0.75,"coef":0.198},{"method":"MR","stat":"lo","n":0.8,"coef":0.198},{"method":"MR","stat":"lo","n":0.85,"coef":0.198},{"method":"MR","stat":"lo","n":0.9,"coef":0.199},{"method":"MR","stat":"lo","n":0.95,"coef":0.199},{"method":"MR","stat":"lo","n":1,"coef":0.199},{"method":"MR","stat":"lo","n":1.05,"coef":0.200},{"method":"MR","stat":"lo","n":1.1,"coef":0.200},{"method":"MR","stat":"lo","n":1.15,"coef":0.200},{"method":"MR","stat":"lo","n":1.2,"coef":0.201},{"method":"MR","stat":"lo","n":1.25,"coef":0.201},{"method":"MR","stat":"lo","n":1.3,"coef":0.201},{"method":"MR","stat":"lo","n":1.35,"coef":0.202},{"method":"MR","stat":"lo","n":1.4,"coef":0.202},{"method":"MR","stat":"lo","n":1.45,"coef":0.202},{"method":"MR","stat":"lo","n":1.5,"coef":0.203},{"method":"MR","stat":"lo","n":1.55,"coef":0.203},{"method":"MR","stat":"lo","n":1.6,"coef":0.203},{"method":"MR","stat":"lo","n":1.65,"coef":0.204},{"method":"MR","stat":"lo","n":1.7,"coef":0.204},{"method":"MR","stat":"lo","n":1.75,"coef":0.204},{"method":"MR","stat":"lo","n":1.8,"coef":0.205},{"method":"MR","stat":"lo","n":1.85,"coef":0.205},{"method":"MR","stat":"lo","n":1.9,"coef":0.205},{"method":"MR","stat":"lo","n":1.95,"coef":0.206},{"method":"MR","stat":"lo","n":2,"coef":0.206},
      {"method":"GIV","stat":"est","n":0.2,"coef":1.12},{"method":"GIV","stat":"est","n":0.25,"coef":0.985},{"method":"GIV","stat":"est","n":0.3,"coef":0.891},{"method":"GIV","stat":"est","n":0.35,"coef":0.866},{"method":"GIV","stat":"est","n":0.4,"coef":0.800},{"method":"GIV","stat":"est","n":0.45,"coef":0.800},{"method":"GIV","stat":"est","n":0.5,"coef":0.699},{"method":"GIV","stat":"est","n":0.55,"coef":0.720},{"method":"GIV","stat":"est","n":0.6,"coef":0.707},{"method":"GIV","stat":"est","n":0.65,"coef":0.611},{"method":"GIV","stat":"est","n":0.7,"coef":0.750},{"method":"GIV","stat":"est","n":0.75,"coef":0.538},{"method":"GIV","stat":"est","n":0.8,"coef":0.538},{"method":"GIV","stat":"est","n":0.85,"coef":0.563},{"method":"GIV","stat":"est","n":0.9,"coef":0.664},{"method":"GIV","stat":"est","n":0.95,"coef":0.677},{"method":"GIV","stat":"est","n":1,"coef":0.535},{"method":"GIV","stat":"est","n":1.05,"coef":0.593},{"method":"GIV","stat":"est","n":1.1,"coef":0.517},{"method":"GIV","stat":"est","n":1.15,"coef":0.618},{"method":"GIV","stat":"est","n":1.2,"coef":0.560},{"method":"GIV","stat":"est","n":1.25,"coef":0.618},{"method":"GIV","stat":"est","n":1.3,"coef":0.510},{"method":"GIV","stat":"est","n":1.35,"coef":0.563},{"method":"GIV","stat":"est","n":1.4,"coef":0.611},{"method":"GIV","stat":"est","n":1.45,"coef":0.487},{"method":"GIV","stat":"est","n":1.5,"coef":0.550},{"method":"GIV","stat":"est","n":1.55,"coef":0.500},{"method":"GIV","stat":"est","n":1.6,"coef":0.437},{"method":"GIV","stat":"est","n":1.65,"coef":0.492},{"method":"GIV","stat":"est","n":1.7,"coef":0.530},{"method":"GIV","stat":"est","n":1.75,"coef":0.437},{"method":"GIV","stat":"est","n":1.8,"coef":0.437},{"method":"GIV","stat":"est","n":1.85,"coef":0.455},{"method":"GIV","stat":"est","n":1.9,"coef":0.510},{"method":"GIV","stat":"est","n":1.95,"coef":0.487},{"method":"GIV","stat":"est","n":2,"coef":0.480}
    ]
  },
  "vconcat": [
    {
      "title": "Estimated Coefficients for Polygenic Score (S)",
      "width": 880,
      "height": 290,
      "layer": [
        {
          "data": {"name": "S"},
          "transform": [{"calculate": "datum.stat === 'hi' || datum.stat === 'lo' ? datum.method + ' bound' : datum.method", "as": "key"}],
          "mark": {"type": "line", "clip": true, "strokeJoin": "round"},
          "encoding": {
            "x": {"field": "n", "type": "quantitative", "scale": {"domain": [0, 2], "nice": false, "zero": false},
                  "axis": {"values": [0, 0.2, 0.4, 0.6, 0.8, 1, 1.2, 1.4, 1.6, 1.8, 2], "labelExpr": "format(datum.value, '~g')", "title": "Total GWAS Sample Size of both y and T", "titlePadding": 6}},
            "y": {"field": "coef", "type": "quantitative", "scale": {"domain": [-0.1, 0.6], "nice": false, "zero": false},
                  "axis": {"values": [-0.1, 0, 0.1, 0.2, 0.3, 0.4, 0.5], "labelExpr": "replace(format(datum.value, '~g'), '\u2212', '-')", "title": "Estimated Coefficient", "titlePadding": 6}},
            "color": {"field": "key", "type": "nominal",
                      "scale": {"domain": ["True", "OLS", "OLS bound", "MR", "MR bound", "EMR", "EMR bound", "GIV"], "range": ["#000000", "#0066CC", "#66B2FF", "#CC6600", "#FFB266", "#66CC00", "#B2FF66", "#CC0066"]},
                      "legend": {"values": ["True", "OLS", "MR", "EMR", "GIV"], "title": null, "orient": "none", "legendX": 20, "legendY": 19, "symbolType": "M-2.5,0H2.5",
                                 "labelExpr": "{'True': 'True Coeffient', 'OLS': 'OLS (1)', 'MR': 'MR (2)', 'EMR': 'EMR (4)', 'GIV': 'GIV (5)'}[datum.label]"}},
            "strokeWidth": {"field": "stat", "type": "nominal", "scale": {"domain": ["true", "est", "hi", "lo"], "range": [1.6, 3, 2, 2]}, "legend": null}
          }
        },
        {
          "data": {"values": [{}]},
          "mark": {"type": "text", "align": "right", "baseline": "middle", "fontSize": 19, "color": "#262626", "font": "Liberation Sans"},
          "encoding": {
            "x": {"datum": 2, "type": "quantitative"},
            "y": {"datum": -0.2325, "type": "quantitative"},
            "text": {"value": "×10⁶"}
          }
        }
      ]
    },
    {
      "title": "Estimated Coefficients for Explanatory Variable (T)",
      "width": 880,
      "height": 290,
      "layer": [
        {
          "data": {"name": "T"},
          "transform": [{"calculate": "datum.stat === 'hi' || datum.stat === 'lo' ? datum.method + ' bound' : datum.method", "as": "key"}],
          "mark": {"type": "line", "clip": true, "strokeJoin": "round"},
          "encoding": {
            "x": {"field": "n", "type": "quantitative", "scale": {"domain": [0, 2], "nice": false, "zero": false},
                  "axis": {"values": [0, 0.2, 0.4, 0.6, 0.8, 1, 1.2, 1.4, 1.6, 1.8, 2], "labelExpr": "format(datum.value, '~g')", "title": "Total GWAS Sample Size of both y and T", "titlePadding": 6}},
            "y": {"field": "coef", "type": "quantitative", "scale": {"domain": [0, 2.2], "nice": false, "zero": false},
                  "axis": {"values": [0, 0.5, 1, 1.5, 2], "labelExpr": "format(datum.value, '~g')", "title": "Estimated Coefficient", "titlePadding": 6}},
            "color": {"field": "key", "type": "nominal",
                      "scale": {"domain": ["True", "OLS", "OLS bound", "MR", "MR bound", "EMR", "EMR bound", "GIV"], "range": ["#000000", "#0066CC", "#66B2FF", "#CC6600", "#FFB266", "#66CC00", "#B2FF66", "#CC0066"]},
                      "legend": {"values": ["True", "OLS", "MR", "EMR", "GIV"], "title": null, "orient": "none", "legendX": 20, "legendY": 20, "symbolType": "M-2.5,0H2.5",
                                 "labelExpr": "{'True': 'True Coeffient', 'OLS': 'OLS (1)', 'MR': 'MR (2)', 'EMR': 'EMR (4)', 'GIV': 'GIV (5)'}[datum.label]"}},
            "strokeWidth": {"field": "stat", "type": "nominal", "scale": {"domain": ["true", "est", "hi", "lo"], "range": [1.8, 3, 2, 2]}, "legend": null}
          }
        },
        {
          "data": {"values": [{}]},
          "mark": {"type": "text", "align": "right", "baseline": "middle", "fontSize": 19, "color": "#262626", "font": "Liberation Sans"},
          "encoding": {
            "x": {"datum": 2, "type": "quantitative"},
            "y": {"datum": -0.414, "type": "quantitative"},
            "text": {"value": "×10⁶"}
          }
        }
      ]
    }
  ],
  "resolve": {"scale": {"color": "independent", "strokeWidth": "independent", "x": "independent", "y": "independent"}, "legend": {"color": "independent"}}
}
